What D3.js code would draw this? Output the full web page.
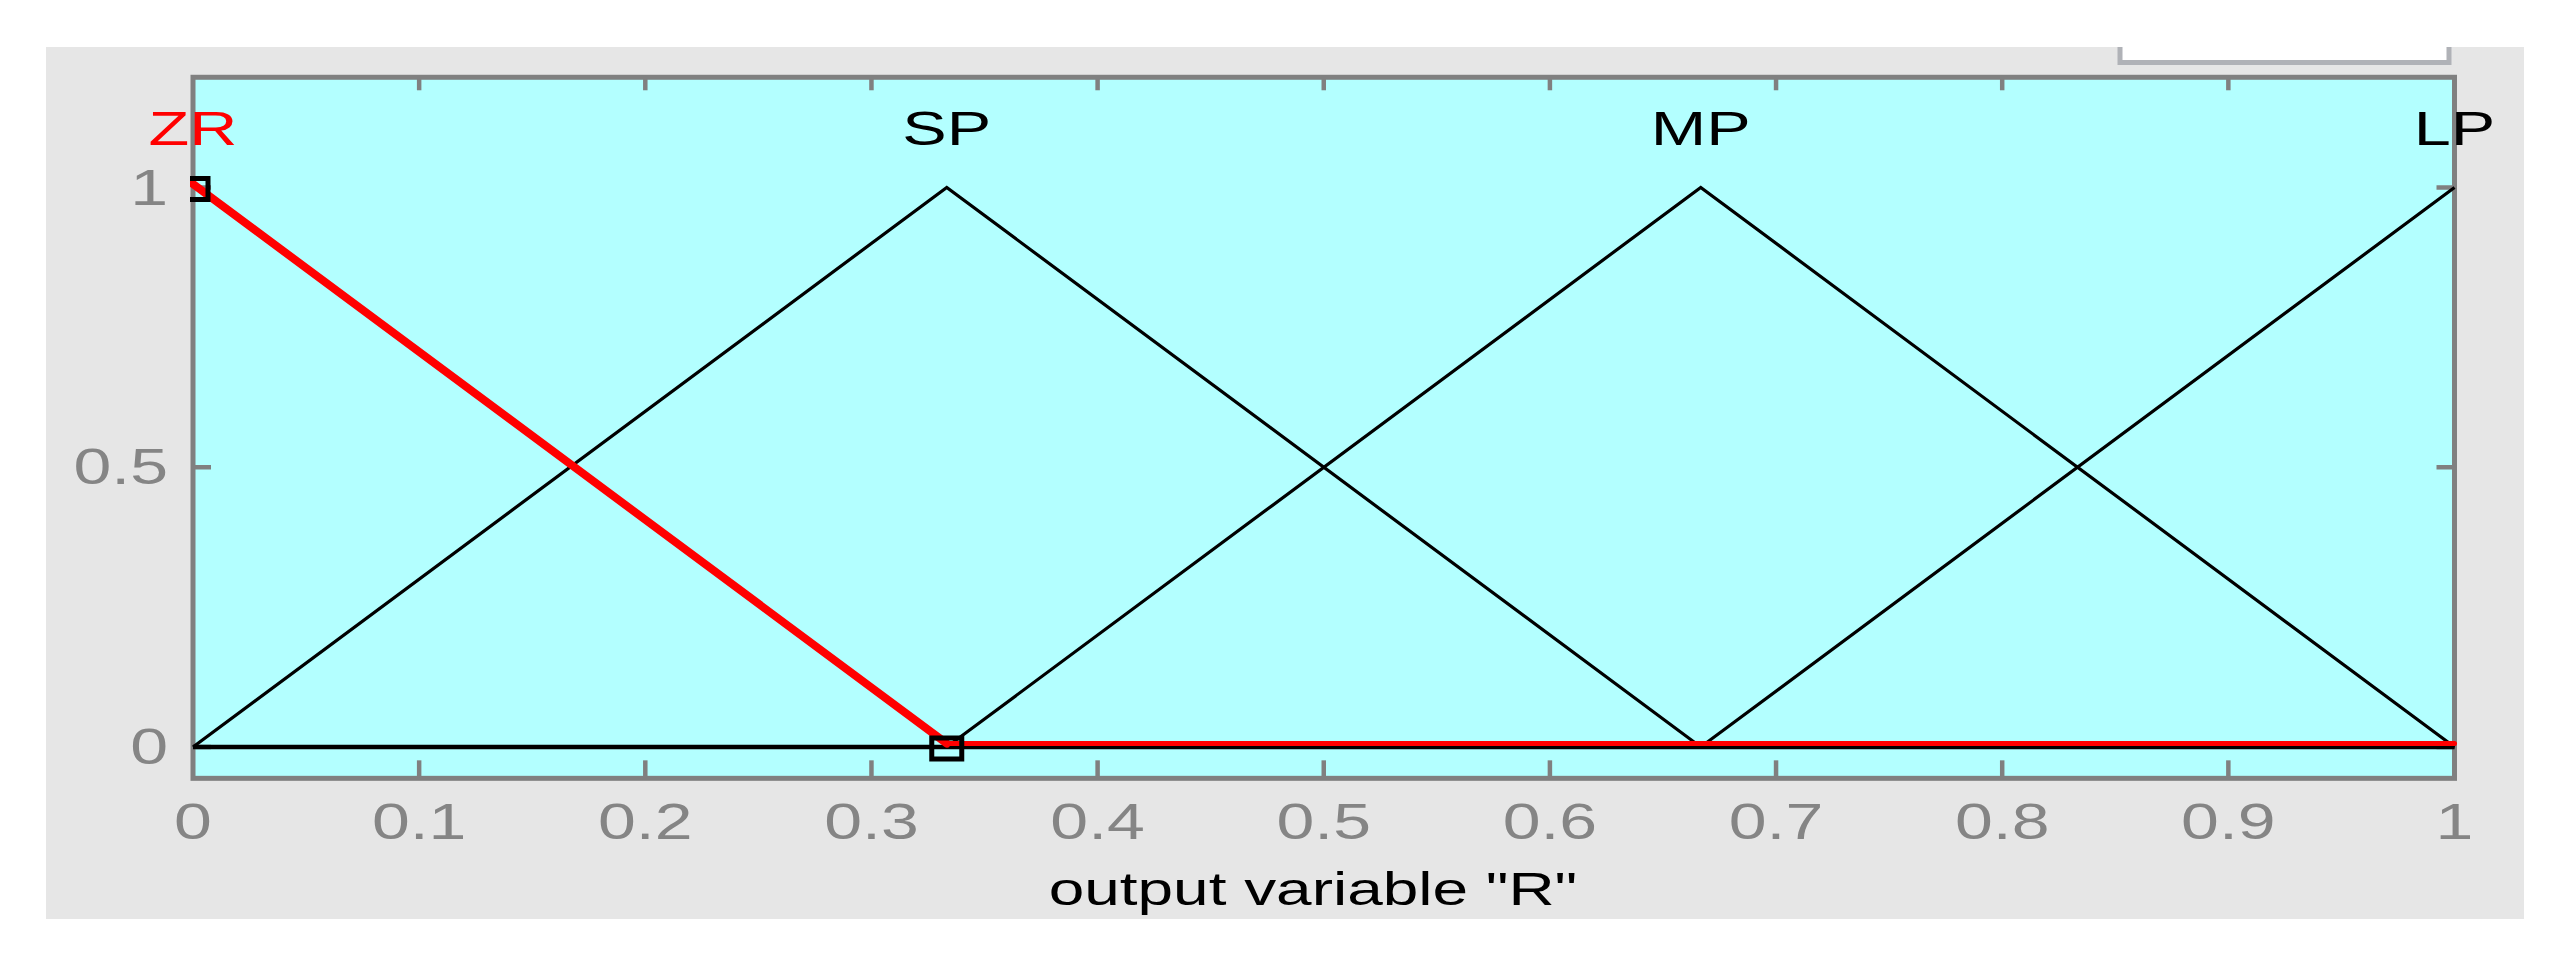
<!DOCTYPE html>
<html>
<head>
<meta charset="utf-8">
<script src="https://cdn.jsdelivr.net/npm/d3@7"></script>
<style>
  body { margin: 0; background: #fff; }
  text { font-family: "Liberation Sans", Arial, sans-serif; }
</style>
</head>
<body>
<script>
// membership functions of output variable "R" (trimf params a, b, c)
var mfNames = ['ZR', 'SP', 'MP', 'LP']
var mfParams = [
  [-0.3333, 0, 0.3333],
  [0, 0.3333, 0.6667],
  [0.3333, 0.6667, 1],
  [0.6667, 1, 1.3333]
]
var selected = 0   // ZR is the highlighted one

var xTicks = [0, 0.1, 0.2, 0.3, 0.4, 0.5, 0.6, 0.7, 0.8, 0.9, 1]
var xTickLabels = ['0', '0.1', '0.2', '0.3', '0.4', '0.5', '0.6', '0.7', '0.8', '0.9', '1']
var yTicks = [0, 0.5, 1]
var yTickLabels = ['0', '0.5', '1']
var xLabel = 'output variable "R"'

var W = 2571, H = 968
var svg = d3.select('body').append('svg').attr('width', W).attr('height', H)

var x = d3.scaleLinear().domain([0, 1]).range([193, 2454.5])
var y = d3.scaleLinear().domain([0, 1]).range([747, 187.5])
var yLim = [-0.056, 1.197]

var axL = x(0), axR = x(1), axT = y(yLim[1]), axB = y(yLim[0])
var sx = 1.36   // the screenshot text is stretched sideways

// grey figure panel
svg.append('rect').attr('x', 46).attr('y', 47).attr('width', 2478).attr('height', 872).attr('fill', '#e6e6e6')

// little white box cut into the top right
svg.append('path')
  .attr('d', 'M2120,47V62.5H2449V47')
  .attr('fill', '#fff').attr('stroke', '#b0b2b7').attr('stroke-width', 5)

// axes background
svg.append('rect')
  .attr('x', axL).attr('y', axT).attr('width', axR - axL).attr('height', axB - axT)
  .attr('fill', '#b3ffff')

// ticks pointing inward
var tickG = svg.append('g').attr('stroke', '#808080').attr('stroke-width', 4.5)
xTicks.slice(1, -1).forEach(function(t){
  tickG.append('line').attr('x1', x(t)).attr('x2', x(t)).attr('y1', axB).attr('y2', axB - 18)
  tickG.append('line').attr('x1', x(t)).attr('x2', x(t)).attr('y1', axT).attr('y2', axT + 13)
})
yTicks.forEach(function(t){
  tickG.append('line').attr('x1', axL).attr('x2', axL + 18).attr('y1', y(t)).attr('y2', y(t))
  tickG.append('line').attr('x1', axR).attr('x2', axR - 18).attr('y1', y(t)).attr('y2', y(t))
})

// frame
svg.append('rect')
  .attr('x', axL).attr('y', axT).attr('width', axR - axL).attr('height', axB - axT)
  .attr('fill', 'none').attr('stroke', '#808080').attr('stroke-width', 5)

// tick labels
xTicks.forEach(function(t, i){
  svg.append('text')
    .attr('transform', 'translate(' + x(t) + ',839) scale(' + sx + ',1)')
    .attr('text-anchor', 'middle').attr('font-size', 50).attr('fill', '#858585')
    .text(xTickLabels[i])
})
yTicks.forEach(function(t, i){
  svg.append('text')
    .attr('transform', 'translate(168,' + (y(t) + 17) + ') scale(' + sx + ',1)')
    .attr('text-anchor', 'end').attr('font-size', 50).attr('fill', '#858585')
    .text(yTickLabels[i])
})

// x label
svg.append('text')
  .attr('transform', 'translate(1313,905) scale(' + sx + ',1)')
  .attr('text-anchor', 'middle').attr('font-size', 47).attr('fill', '#000')
  .text(xLabel)

// curves
svg.append('clipPath').attr('id', 'clip')
  .append('rect').attr('x', axL - 3).attr('y', axT).attr('width', axR - axL + 6).attr('height', axB - axT)
var plot = svg.append('g').attr('clip-path', 'url(#clip)')

function trimf(v, p){
  if (v <= p[0] || v >= p[2]) return (v === p[1]) ? 1 : 0
  return v <= p[1] ? (v - p[0]) / (p[1] - p[0]) : (p[2] - v) / (p[2] - p[1])
}
function mfPoints(p){
  var xs = [0, p[0], p[1], p[2], 1].filter(function(v){ return v >= 0 && v <= 1 })
  xs = Array.from(new Set(xs)).sort(d3.ascending)
  return xs.map(function(v){ return [v, trimf(v, p)] })
}
var line = d3.line().x(function(d){ return x(d[0]) }).y(function(d){ return y(d[1]) })

mfParams.forEach(function(p, i){
  if (i === selected) return
  plot.append('path').datum(mfPoints(p))
    .attr('d', line).attr('fill', 'none').attr('stroke', '#000').attr('stroke-width', 3.2)
})
// zero level where the curves overlap
plot.append('path').datum([[0, 0], [1, 0]])
  .attr('d', line).attr('stroke', '#000').attr('stroke-width', 4.5)

// selected mf: slopes drawn heavier than its flat part
var selPts = mfPoints(mfParams[selected])
var selG = plot.append('g').attr('transform', 'translate(0,-3.5)')
d3.pairs(selPts).forEach(function(seg){
  var flat = seg[0][1] === 0 && seg[1][1] === 0
  selG.append('path').datum(seg)
    .attr('d', line).attr('fill', 'none').attr('stroke', '#ff0000')
    .attr('stroke-linecap', 'round')
    .attr('stroke-width', flat ? 5 : 8)
})

// handles on the selected function's vertices
mfParams[selected].slice(1).forEach(function(v){
  plot.append('rect')
    .attr('x', x(v) - 15).attr('y', y(trimf(v, mfParams[selected])) - 9)
    .attr('width', 30).attr('height', 21)
    .attr('fill', 'none').attr('stroke', '#000').attr('stroke-width', 5)
})

// mf names above their peaks
mfParams.forEach(function(p, i){
  svg.append('text')
    .attr('transform', 'translate(' + x(p[1]) + ',145) scale(' + sx + ',1)')
    .attr('text-anchor', 'middle').attr('font-size', 49)
    .attr('fill', i === selected ? '#ff0000' : '#000')
    .text(mfNames[i])
})
</script>
</body>
</html>
